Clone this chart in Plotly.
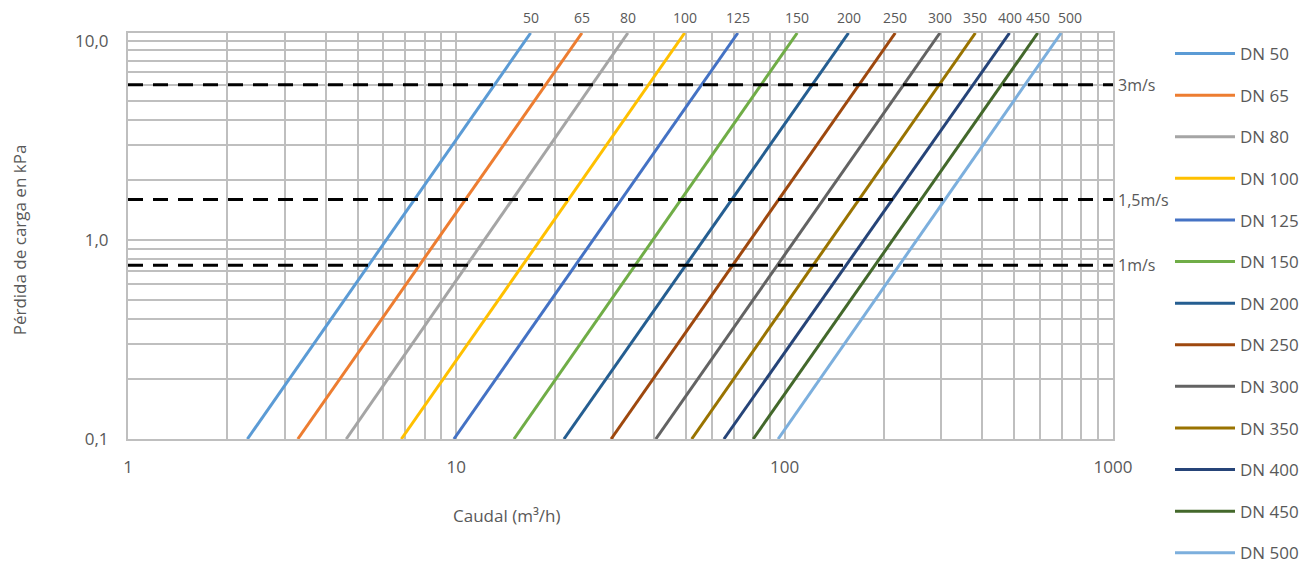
import numpy as np
import plotly.graph_objects as go

# ---------------- data ----------------
dn_names = ["DN 50", "DN 65", "DN 80", "DN 100", "DN 125", "DN 150", "DN 200",
            "DN 250", "DN 300", "DN 350", "DN 400", "DN 450", "DN 500"]
dn_tags = ["50", "65", "80", "100", "125", "150", "200", "250", "300", "350", "400", "450", "500"]
# flow (m3/h) at the lower (0.1 kPa) and upper (11 kPa) end of each line
q_low = [2.31, 3.29, 4.62, 6.80, 9.83, 14.98, 21.27, 29.6, 40.5, 52.1, 65.3, 80.2, 95.5]
q_high = [16.84, 24.13, 33.3, 49.6, 72.0, 109.2, 156.5, 217.2, 297.0, 381.0, 484.0, 590.0, 695.0]
dp_ends = [0.1, 11.0]

colors = ["#5B9BD5", "#ED7D31", "#A5A5A5", "#FFC000", "#4472C4", "#70AD47", "#255E91",
          "#9E480E", "#636363", "#997300", "#264478", "#43682B", "#7CAFDD"]

vel_labels = ["3m/s", "1,5m/s", "1m/s"]
vel_dp = [6.05, 1.60, 0.748]
vel_q = [1, 1000]

x_tick_vals = [1, 10, 100, 1000]
x_tick_text = ["1", "10", "100", "1000"]
y_tick_vals = [0.1, 1, 10]
y_tick_text = ["0,1", "1,0", "10,0"]

# ---------------- styling ----------------
FONT = "Open Sans, Noto Sans, sans-serif"
TXT = "#595959"
GRID = "#BFBFBF"
# small horizontal nudges of the top size labels (px), as in the original
tag_shift = {"500": 9}

# the page body adds an 8px margin, so the figure is 16px smaller than the window
W, H = 1299, 563

x_minor = [m * 10 ** e for e in range(0, 3) for m in range(2, 10)]
y_minor = [m * 10 ** e for e in range(-1, 1) for m in range(2, 10)]

fig = go.Figure()

for name, ql, qh, c in zip(dn_names, q_low, q_high, colors):
    fig.add_trace(go.Scatter(
        x=[ql, qh], y=dp_ends, mode="lines", name=name, legendgroup=name,
        line=dict(color=c, width=3), hoverinfo="skip"))

for lab, dp in zip(vel_labels, vel_dp):
    fig.add_trace(go.Scatter(
        x=vel_q, y=[dp, dp], mode="lines", showlegend=False,
        line=dict(color="black", width=3, dash="15px,10px"), hoverinfo="skip"))

annotations = []
for tag, qh in zip(dn_tags, q_high):
    annotations.append(dict(
        x=np.log10(qh), y=np.log10(dp_ends[1]), xref="x", yref="y", text=tag,
        showarrow=False, xanchor="center", yanchor="bottom", yshift=4,
        xshift=tag_shift.get(tag, 0),
        font=dict(family=FONT, size=14, color=TXT)))
for lab, dp in zip(vel_labels, vel_dp):
    annotations.append(dict(
        x=np.log10(vel_q[-1]), y=np.log10(dp), xref="x", yref="y", text=lab,
        showarrow=False, xanchor="left", yanchor="middle", xshift=3,
        font=dict(family=FONT, size=16, color=TXT)))
annotations.append(dict(
    x=0.384, y=-0.189, xref="paper", yref="paper", text="Caudal (m³/h)",
    showarrow=False, xanchor="center", yanchor="middle",
    font=dict(family=FONT, size=17, color=TXT)))
annotations.append(dict(
    x=-0.11, y=0.491, xref="paper", yref="paper", text="Pérdida de carga en kPa",
    showarrow=False, xanchor="center", yanchor="middle", textangle=-90,
    font=dict(family=FONT, size=17, color=TXT)))

fig.update_layout(
    width=W, height=H,
    margin=dict(l=120.3, r=193.5, t=25.3, b=131.7, autoexpand=False),
    paper_bgcolor="white", plot_bgcolor="white",
    font=dict(family=FONT, size=17, color=TXT),
    annotations=annotations,
    legend=dict(
        xref="container", yref="container", x=1162 / W, y=1 - 28 / H,
        xanchor="left", yanchor="top", tracegroupgap=16.5, itemwidth=60,
        maxheight=H, font=dict(family=FONT, size=17, color=TXT),
        bgcolor="rgba(0,0,0,0)"),
    xaxis=dict(
        type="log", range=[0, 3], tickmode="array", tickvals=x_tick_vals,
        ticktext=x_tick_text, showgrid=True, gridcolor=GRID, gridwidth=2,
        showline=True, linecolor=GRID, linewidth=2, mirror=True, zeroline=False,
        ticks="", ticklabelstandoff=12,
        tickfont=dict(family=FONT, size=17, color=TXT),
        minor=dict(tickmode="array", tickvals=x_minor, showgrid=True,
                   gridcolor=GRID, gridwidth=2, ticks="")),
    yaxis=dict(
        type="log", range=[-1, np.log10(11)], tickmode="array", tickvals=y_tick_vals,
        ticktext=y_tick_text, showgrid=True, gridcolor=GRID, gridwidth=2,
        showline=True, linecolor=GRID, linewidth=2, mirror=True, zeroline=False,
        ticks="", ticklabelstandoff=14,
        tickfont=dict(family=FONT, size=17, color=TXT),
        minor=dict(tickmode="array", tickvals=y_minor, showgrid=True,
                   gridcolor=GRID, gridwidth=2, ticks="")),
)

fig.write_html("out.html")
